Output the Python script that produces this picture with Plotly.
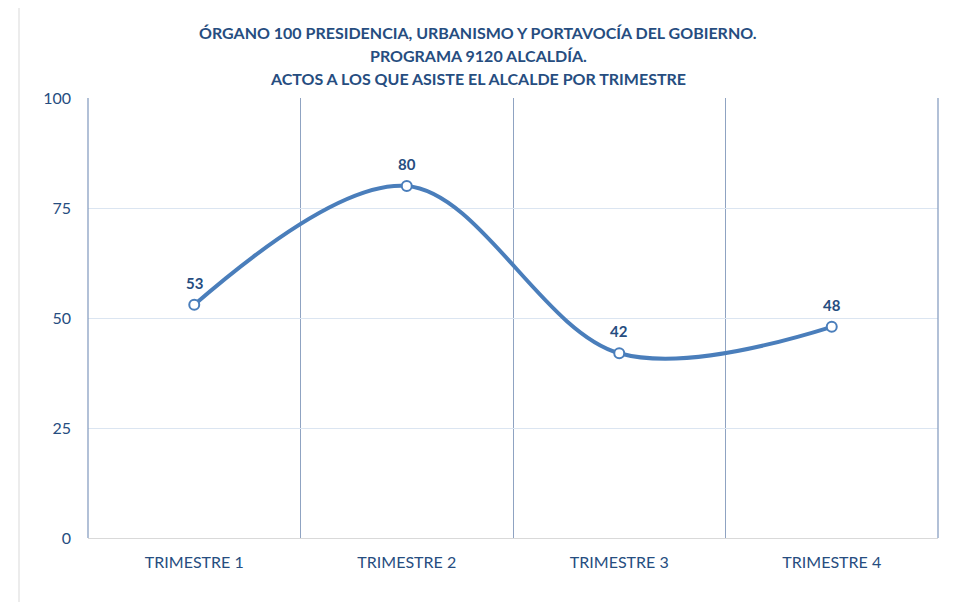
import plotly.graph_objects as go

categories = ["TRIMESTRE 1", "TRIMESTRE 2", "TRIMESTRE 3", "TRIMESTRE 4"]
values = [53, 80, 42, 48]
y_ticks = [0, 25, 50, 75, 100]

title_lines = [
    "ÓRGANO 100 PRESIDENCIA, URBANISMO Y PORTAVOCÍA DEL GOBIERNO.",
    "PROGRAMA 9120 ALCALDÍA.",
    "ACTOS A LOS QUE ASISTE EL ALCALDE POR TRIMESTRE",
]

dark = "#264d80"
line_col = "#4a7ebb"

# page body has an 8px margin, so the figure is shifted by 8px
OFF = 8
L, R, T, B = 88 - OFF, 26 + OFF, 98 - OFF, 64 + OFF
W, H = 964, 602
PW, PH = W - L - R, H - T - B

fig = go.Figure()
fig.add_trace(go.Scatter(
    x=categories, y=values,
    mode="lines+markers",
    line=dict(color=line_col, width=4, shape="spline", smoothing=1.0),
    marker=dict(size=10, color="white", line=dict(color=line_col, width=2)),
    cliponaxis=False,
    hoverinfo="skip",
))

annotations = []
for c, v in zip(categories, values):
    annotations.append(dict(
        x=c, y=v, xref="x", yref="y", text=f"<b>{v}</b>", showarrow=False,
        yshift=22, font=dict(family="Lato", size=15, color=dark),
    ))

title_y = [32, 55, 78]
for line, yy in zip(title_lines, title_y):
    annotations.append(dict(
        x=(478 - OFF - L) / PW, xref="paper",
        y=1 + (T - (yy - OFF)) / PH, yref="paper",
        text=f"<b>{line}</b>", showarrow=False,
        xanchor="center", yanchor="middle",
        font=dict(family="Lato", size=16, color=dark),
    ))

fig.update_layout(
    width=W, height=H,
    margin=dict(l=L, r=R, t=T, b=B),
    paper_bgcolor="white", plot_bgcolor="white",
    showlegend=False,
    annotations=annotations,
    xaxis=dict(
        type="category",
        range=[-0.5, 3.5],
        tickson="boundaries",
        showgrid=True, gridcolor="#8fa3c2", gridwidth=1,
        showline=True, linecolor="#d9d9d9", linewidth=1,
        ticks="", ticklen=0,
        tickfont=dict(family="Lato", size=16, color=dark),
        ticklabelstandoff=10,
        zeroline=False,
    ),
    yaxis=dict(
        range=[0, 100],
        tickvals=y_ticks,
        showgrid=True, gridcolor="#dbe5f1", gridwidth=1,
        showline=False,
        zeroline=False,
        ticks="",
        tickfont=dict(family="Lato", size=16, color=dark),
        ticklabelstandoff=16,
    ),
    shapes=[
        dict(type="line", xref="paper", yref="paper", x0=0, x1=0, y0=0, y1=1,
             line=dict(color="#7f97bd", width=1.2)),
        dict(type="line", xref="paper", yref="paper", x0=1, x1=1, y0=0, y1=1,
             line=dict(color="#7f97bd", width=1.2)),
        dict(type="rect", xref="paper", yref="paper",
             x0=-(88 - 19) / PW, x1=1.5, y0=-2.0, y1=1 + (98 - 7) / PH,
             line=dict(color="#d9d9d9", width=1), fillcolor="rgba(0,0,0,0)", layer="below"),
    ],
)

fig.write_html("out.html")
